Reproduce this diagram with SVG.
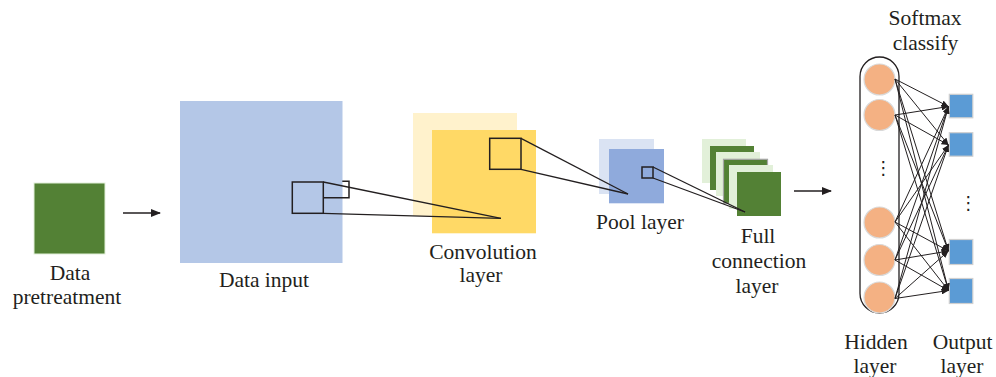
<svg xmlns="http://www.w3.org/2000/svg" width="996" height="377" viewBox="0 0 996 377">
<defs>
<style>
.t{font-family:"Liberation Serif","Times New Roman",serif;font-size:21.5px;fill:#231f20;text-anchor:middle}
.dots{font-family:"DejaVu Sans",sans-serif;font-size:18px;fill:#231f20;text-anchor:middle}
.ln{stroke:#231f20;stroke-width:1.3;fill:none}
.box{stroke:#231f20;stroke-width:1.5;fill:none}
.dg{fill:#538135}
.lg{fill:#e2f0d9}
.hid{fill:#f4b183;stroke:#d9d9d9;stroke-width:1.2}
.out{fill:#5b9bd5;stroke:#d0d0d0;stroke-width:1.2}
.net{stroke:#231f20;stroke-width:1;fill:none;marker-end:url(#ah)}
</style>
<marker id="arr" markerWidth="10" markerHeight="8" refX="9" refY="4" orient="auto" markerUnits="userSpaceOnUse">
<path d="M0,0 L10,4 L0,8 Z" fill="#231f20"/>
</marker>
<marker id="ah" markerWidth="7" markerHeight="6" refX="7" refY="3" orient="auto" markerUnits="userSpaceOnUse">
<path d="M0,0 L7,3 L0,6 Z" fill="#231f20"/>
</marker>
</defs>
<rect width="996" height="377" fill="#ffffff"/>

<g id="pretreatment">
<rect x="34" y="183" width="71" height="71" class="dg" stroke="#e2f0d9" stroke-width="1"/>
<text class="t" x="70" y="280">Data</text>
<text class="t" x="67" y="303.5">pretreatment</text>
</g>

<g id="data-input">
<rect x="180" y="101" width="162.5" height="162" fill="#b4c7e7"/>
<rect x="292.3" y="182" width="31" height="31.3" class="box"/>
<path d="M342.3,181.3 H349 V197.7 H323.3" class="box"/>
<text class="t" x="264" y="287">Data input</text>
</g>

<g id="convolution">
<rect x="413" y="113" width="104" height="103" fill="#fff2cc"/>
<rect x="432" y="130" width="104" height="103.3" fill="#ffd966"/>
<rect x="489.7" y="138.3" width="31.3" height="31" class="box"/>
<text class="t" x="483" y="258.5">Convolution</text>
<text class="t" x="481" y="282">layer</text>
</g>

<g id="pool">
<rect x="599" y="139" width="55" height="55" fill="#dae3f3"/>
<rect x="609" y="149" width="55" height="54.3" fill="#8faadc"/>
<rect x="642" y="167" width="11" height="11" class="box"/>
<text class="t" x="640" y="229">Pool layer</text>
</g>

<g id="full-connection">
<rect x="702" y="139" width="44" height="44" class="lg"/>
<rect x="710" y="146" width="44" height="44" class="dg"/>
<rect x="716" y="152" width="44" height="44" class="lg"/>
<rect x="723.5" y="159.3" width="44" height="44" class="dg" stroke="#a6a6a6" stroke-width="1.2"/>
<rect x="729" y="165" width="44" height="44" class="lg"/>
<rect x="737" y="172" width="44" height="44" class="dg"/>
<text class="t" x="758" y="242.5">Full</text>
<text class="t" x="759" y="267.5">connection</text>
<text class="t" x="757" y="292.5">layer</text>
</g>

<g id="hidden-layer">
<rect x="860" y="57" width="39" height="256" rx="19.5" ry="19.5" fill="none" stroke="#231f20" stroke-width="1.3"/>
<circle cx="879.5" cy="79.5" r="15.5" class="hid"/>
<circle cx="879.5" cy="115" r="15.5" class="hid"/>
<circle cx="879.5" cy="222.5" r="15.5" class="hid"/>
<circle cx="879.5" cy="260" r="15.5" class="hid"/>
<circle cx="879.5" cy="297.5" r="15.5" class="hid"/>
<text class="dots" x="883.3" y="174">⋮</text>
<text class="t" x="876" y="349">Hidden</text>
<text class="t" x="875" y="373">layer</text>
</g>

<g id="output-layer">
<rect x="949.3" y="94.3" width="23.5" height="23.5" class="out"/>
<rect x="949.3" y="132.7" width="23.5" height="23.5" class="out"/>
<rect x="949.3" y="239.5" width="23.5" height="25" class="out"/>
<rect x="949.3" y="278.5" width="23.5" height="25" class="out"/>
<text class="dots" x="968.3" y="209">⋮</text>
<text class="t" x="962.5" y="349">Output</text>
<text class="t" x="962" y="373">layer</text>
</g>

<g id="softmax">
<text class="t" x="925" y="24.5">Softmax</text>
<text class="t" x="925.5" y="50">classify</text>
</g>

<g id="connectors">
<line x1="123" y1="213" x2="160" y2="213" class="ln" marker-end="url(#arr)"/>
<line x1="794" y1="191" x2="831" y2="191" class="ln" marker-end="url(#arr)"/>
<line x1="323.3" y1="182" x2="501" y2="218.3" class="ln"/>
<line x1="323.3" y1="213.3" x2="501" y2="218.3" class="ln"/>
<line x1="521" y1="138.3" x2="628" y2="194" class="ln"/>
<line x1="521" y1="169.3" x2="628" y2="194" class="ln"/>
<line x1="653" y1="167" x2="745" y2="212" class="ln"/>
<line x1="653" y1="178" x2="745" y2="212" class="ln"/>

<line x1="895" y1="79" x2="948.5" y2="106.5" class="net"/>
<line x1="895" y1="79" x2="948.5" y2="145" class="net"/>
<line x1="895" y1="79" x2="948.5" y2="251" class="net"/>
<line x1="895" y1="79" x2="948.5" y2="290.5" class="net"/>
<line x1="895" y1="115" x2="948.5" y2="106.5" class="net"/>
<line x1="895" y1="115" x2="948.5" y2="145" class="net"/>
<line x1="895" y1="115" x2="948.5" y2="251" class="net"/>
<line x1="895" y1="115" x2="948.5" y2="290.5" class="net"/>
<line x1="895" y1="222" x2="948.5" y2="106.5" class="net"/>
<line x1="895" y1="222" x2="948.5" y2="145" class="net"/>
<line x1="895" y1="222" x2="948.5" y2="251" class="net"/>
<line x1="895" y1="222" x2="948.5" y2="290.5" class="net"/>
<line x1="895" y1="260" x2="948.5" y2="106.5" class="net"/>
<line x1="895" y1="260" x2="948.5" y2="145" class="net"/>
<line x1="895" y1="260" x2="948.5" y2="251" class="net"/>
<line x1="895" y1="260" x2="948.5" y2="290.5" class="net"/>
<line x1="895" y1="298.5" x2="948.5" y2="106.5" class="net"/>
<line x1="895" y1="298.5" x2="948.5" y2="145" class="net"/>
<line x1="895" y1="298.5" x2="948.5" y2="251" class="net"/>
<line x1="895" y1="298.5" x2="948.5" y2="290.5" class="net"/>
</g>
</svg>
